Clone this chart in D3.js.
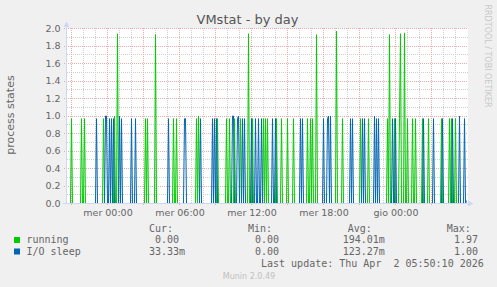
<!DOCTYPE html>
<html><head><meta charset="utf-8">
<script src="https://cdn.jsdelivr.net/npm/d3@7"></script>
<style>
html,body{margin:0;padding:0;background:#f0f0f0;}
svg{display:block;}
text{white-space:pre;}
</style></head>
<body>
<svg id="chart" width="497" height="287"></svg>
<script>
// ---- data (5-minute samples, index 0 = Tue 31 Mar 2026 20:35) ----
const sampleCount = 400;
const startTime = new Date(2026, 2, 31, 20, 35);
const runningIdx = [4,14,17,36,47,50,78,80,88,106,109,129,131,150,159,162,167,173,181,185,196,198,200,209,214,220,226,240,243,245,249,269,275,293,301,320,322,327,332,333,337,340,345,348,355,361,374,382,384,388];
const runningVal = [0.97,0.97,0.97,0.97,1.0,1.94,0.97,0.97,1.93,0.97,0.97,0.97,1.0,0.97,0.97,0.97,0.97,0.97,1.94,0.97,0.97,0.97,0.97,0.97,0.97,0.97,0.97,0.97,0.97,0.97,1.93,1.97,0.97,0.97,0.97,0.97,1.93,0.97,0.97,1.94,1.95,0.97,0.97,0.97,0.97,0.97,0.97,0.97,0.97,0.97];
const ioIdx = [29,38,39,42,44,46,52,54,64,68,101,117,118,133,145,147,149,165,166,170,171,175,177,184,188,191,194,205,208,233,235,256,260,261,263,283,285,295,297,307,309,311,325,328,356,366,375,385,392,397,399];
const ioVal = [0.97,1.0,1.0,0.97,0.97,0.97,1.0,0.97,0.97,0.97,0.97,0.97,0.97,0.97,0.97,0.97,0.97,1.0,1.0,0.97,1.0,0.97,0.97,0.97,0.97,0.97,0.97,0.97,0.97,0.97,0.97,0.97,0.97,1.0,1.0,0.97,0.97,0.97,0.97,1.0,0.97,0.97,0.97,0.97,0.97,0.97,0.97,0.97,1.0,0.97,0.033];
const seriesNames = ["running","I/O sleep"];
const seriesColors = ["#00cc00","#0066b3"];
const legendCur = [" 0.00","33.33m"];
const legendMin = ["0.00","0.00"];
const legendAvg = ["194.01m","123.27m"];
const legendMax = ["1.97","1.00"];
const yTickValues = [0,0.2,0.4,0.6,0.8,1.0,1.2,1.4,1.6,1.8,2.0];
const yMinorValues = [0.1,0.3,0.5,0.7,0.9,1.1,1.3,1.5,1.7,1.9];

function buildSeries(idx, val){
  const arr = new Array(sampleCount).fill(0);
  idx.forEach((k,j)=>{arr[k]=val[j];});
  return arr.map((v,i)=>({t:new Date(startTime.getTime()+i*300000), v}));
}
const running = buildSeries(runningIdx, runningVal);
const ioSleep = buildSeries(ioIdx, ioVal);

const svg = d3.select("#chart");
const pL=67, pR=468, pT=28, pB=203;
const x = d3.scaleTime().domain([startTime, new Date(startTime.getTime()+sampleCount*300000)]).range([67.5, 467.5]);
const y = d3.scaleLinear().domain([0,2]).range([203.5, 28.5]);
const gy = d => Math.floor(y(d)) + 0.5;

svg.append("rect").attr("width",497).attr("height",287).attr("fill","#f0f0f0");
svg.append("rect").attr("x",pL).attr("y",pT).attr("width",pR-pL).attr("height",pB-pT+1).attr("fill","#ffffff");

const grid = svg.append("g").attr("shape-rendering","crispEdges");
const minorCol="#cfcfcf", majorCol="#e6acac";
grid.selectAll(".hmin").data(yMinorValues).join("line")
  .attr("x1",pL).attr("x2",pR).attr("y1",gy).attr("y2",gy)
  .attr("stroke",minorCol).attr("stroke-dasharray","1,1");
const hourTicks = x.ticks(d3.timeHour.every(1)).filter(d=>d.getHours()%3!==0);
grid.selectAll(".vmin").data(hourTicks).join("line")
  .attr("x1",d=>Math.floor(x(d))-0.5).attr("x2",d=>Math.floor(x(d))-0.5).attr("y1",pT).attr("y2",pB)
  .attr("stroke",minorCol).attr("stroke-dasharray","1,1");
grid.selectAll(".hmaj").data(yTickValues).join("line")
  .attr("x1",pL-3).attr("x2",pR).attr("y1",gy).attr("y2",gy)
  .attr("stroke",majorCol).attr("stroke-dasharray","1,1");
const majorTicks = x.ticks(d3.timeHour.every(3));
grid.selectAll(".vmaj").data(majorTicks).join("line")
  .attr("x1",d=>Math.floor(x(d))-0.5).attr("x2",d=>Math.floor(x(d))-0.5).attr("y1",pT).attr("y2",pB+3)
  .attr("stroke",majorCol).attr("stroke-dasharray","1,1");

const line = d3.line().x(d=>x(d.t)).y(d=>y(d.v));
svg.append("path").datum(running).attr("d",line).attr("fill","none").attr("stroke",seriesColors[0]).attr("stroke-width",1);
svg.append("path").datum(ioSleep).attr("d",line).attr("fill","none").attr("stroke",seriesColors[1]).attr("stroke-width",1);

const axisCol="#cfd6f8";
svg.append("line").attr("x1",66.5).attr("x2",66.5).attr("y1",pB+0.5).attr("y2",24).attr("stroke",axisCol);
svg.append("line").attr("x1",63).attr("x2",470).attr("y1",pB+0.5).attr("y2",pB+0.5).attr("stroke",axisCol);
svg.append("path").attr("d","M63.5,27 L69.5,27 L66.5,21.5 Z").attr("fill",axisCol);
svg.append("path").attr("d","M468,200.5 L468,206.5 L473.5,203.5 Z").attr("fill",axisCol);

const itLocale = d3.timeFormatLocale({dateTime:"%A %e %B %Y, %X",date:"%d/%m/%Y",time:"%H:%M:%S",periods:["AM","PM"],
  days:["domenica","lunedì","martedì","mercoledì","giovedì","venerdì","sabato"],
  shortDays:["dom","lun","mar","mer","gio","ven","sab"],
  months:["gennaio","febbraio","marzo","aprile","maggio","giugno","luglio","agosto","settembre","ottobre","novembre","dicembre"],
  shortMonths:["gen","feb","mar","apr","mag","giu","lug","ago","set","ott","nov","dic"]});
const fmt = itLocale.format("%a %H:%M");
const font="DejaVu Sans", txtCol="#666666";
svg.selectAll(".xl").data(x.ticks(d3.timeHour.every(6))).join("text")
  .attr("x",d=>x(d)-0.5).attr("y",216).attr("text-anchor","middle")
  .attr("font-family",font).attr("font-size",9.5).attr("fill",txtCol).text(d=>fmt(d));
svg.selectAll(".yl").data(yTickValues).join("text")
  .attr("x",60.5).attr("y",d=>y(d)+3.3).attr("text-anchor","end")
  .attr("font-family",font).attr("font-size",9.5).attr("fill",txtCol).text(d=>d3.format(".1f")(d));

svg.append("text").attr("x",247.5).attr("y",24).attr("text-anchor","middle").attr("font-family",font)
  .attr("font-size",13).attr("fill","#555").text("VMstat - by day");
svg.append("text").attr("transform","translate(14.3,115) rotate(-90)").attr("text-anchor","middle")
  .attr("font-family",font).attr("font-size",11).attr("fill",txtCol).text("process states");
svg.append("text").attr("transform","translate(485,56) rotate(90)").attr("text-anchor","middle")
  .attr("font-family",font).attr("font-size",8).attr("fill","#c8c8c8").text("RRDTOOL / TOBI OETIKER");

const mono="DejaVu Sans Mono";
const lg = svg.append("g").attr("font-family",mono).attr("font-size",10).attr("fill",txtCol);
[["Cur:",149],["Min:",248],["Avg:",347.7],["Max:",446.7]].forEach(([t,xx])=>lg.append("text").attr("x",xx).attr("y",231.5).text(t));
seriesNames.forEach((n,i)=>{
  const yy = 243 + i*11.5;
  svg.append("rect").attr("x",14).attr("y",yy-6).attr("width",6).attr("height",6).attr("fill",seriesColors[i]);
  lg.append("text").attr("x",26.5).attr("y",yy).text(n);
  lg.append("text").attr("x",149).attr("y",yy).text(legendCur[i]);
  lg.append("text").attr("x",255).attr("y",yy).text(legendMin[i]);
  lg.append("text").attr("x",342.7).attr("y",yy).text(legendAvg[i]);
  lg.append("text").attr("x",454).attr("y",yy).text(legendMax[i]);
});
lg.append("text").attr("x",261).attr("y",267).text("Last update: Thu Apr  2 05:50:10 2026");
svg.append("text").attr("x",249).attr("y",279).attr("text-anchor","middle").attr("font-family",font)
  .attr("font-size",8).attr("fill","#c0c0c0").text("Munin 2.0.49");
</script>
</body></html>
